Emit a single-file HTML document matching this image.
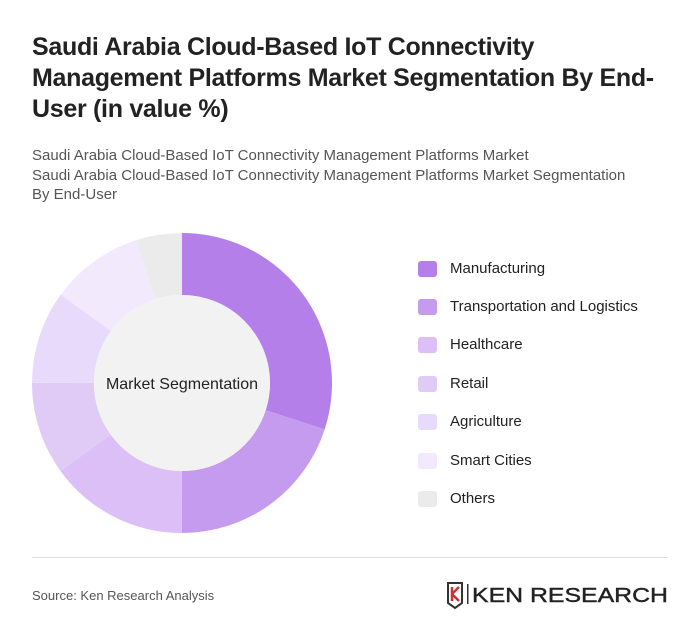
<!DOCTYPE html>
<html><head><meta charset="utf-8"><style>
body{margin:0;background:#fff;font-family:"Liberation Sans",sans-serif;}
.wrap{position:relative;width:700px;height:642px;overflow:hidden;}
h1{position:absolute;left:32px;top:32px;margin:0;font-size:25px;line-height:31px;font-weight:bold;color:#222;width:650px;letter-spacing:-0.3px}
.sub{position:absolute;left:32px;top:146px;font-size:15px;line-height:19.5px;color:#555;width:612px}
.leg{position:absolute;left:418px;font-size:15px;color:#222}
.leg i{position:absolute;left:0;top:2px;width:19px;height:16px;border-radius:3px}
.leg span{position:absolute;left:32px;top:1px;white-space:nowrap}
.hr{position:absolute;left:32px;top:557px;width:636px;height:1px;background:#ddd}
.src{position:absolute;left:32px;top:588px;font-size:13px;color:#555}
</style></head><body><div class="wrap">
<h1>Saudi Arabia Cloud-Based IoT Connectivity Management Platforms Market Segmentation By End-User (in value %)</h1>
<div class="sub">Saudi Arabia Cloud-Based IoT Connectivity Management Platforms Market<br>Saudi Arabia Cloud-Based IoT Connectivity Management Platforms Market Segmentation By End-User</div>
<svg style="position:absolute;left:0;top:0" width="700" height="642">
<g transform="rotate(-90 182 383)" fill="none" stroke-width="62">
<circle cx="182" cy="383" r="119" stroke="#b57fea" stroke-dasharray="224.3 800" stroke-dashoffset="0"/>
<circle cx="182" cy="383" r="119" stroke="#c59bf0" stroke-dasharray="149.5 800" stroke-dashoffset="-224.3"/>
<circle cx="182" cy="383" r="119" stroke="#dbbff6" stroke-dasharray="112.2 800" stroke-dashoffset="-373.8"/>
<circle cx="182" cy="383" r="119" stroke="#e0cbf7" stroke-dasharray="74.8 800" stroke-dashoffset="-486"/>
<circle cx="182" cy="383" r="119" stroke="#e8dafa" stroke-dasharray="74.8 800" stroke-dashoffset="-560.8"/>
<circle cx="182" cy="383" r="119" stroke="#f2eafc" stroke-dasharray="74.8 800" stroke-dashoffset="-635.6"/>
<circle cx="182" cy="383" r="119" stroke="#ebebeb" stroke-dasharray="37.4 800" stroke-dashoffset="-710.4"/>
</g>
<circle cx="182" cy="383" r="88" fill="#f2f2f2"/>
<text x="182" y="389" text-anchor="middle" font-family="Liberation Sans" font-size="16" fill="#222">Market Segmentation</text>
<g transform="translate(448,581)">
<path d="M0 2 L14 2 L14 22 L7 27 L0 22 Z" fill="none" stroke="#333" stroke-width="2"/>
<path d="M4 6 V20 M4 13 L11 6 M4 13 L11 20" stroke="#c33" stroke-width="2.5" fill="none"/>
<rect x="19" y="3" width="1.5" height="20" fill="#333"/>
<text x="24" y="21" font-family="Liberation Sans" font-size="20" fill="#222" textLength="196" lengthAdjust="spacingAndGlyphs" stroke="#222" stroke-width="0.4">KEN RESEARCH</text>
</g>
</svg>
<div class="leg" style="top:259px"><i style="background:#b57fea"></i><span>Manufacturing</span></div>
<div class="leg" style="top:297px"><i style="background:#c59bf0"></i><span>Transportation and Logistics</span></div>
<div class="leg" style="top:335px"><i style="background:#dbbff6"></i><span>Healthcare</span></div>
<div class="leg" style="top:374px"><i style="background:#e0cbf7"></i><span>Retail</span></div>
<div class="leg" style="top:412px"><i style="background:#e8dafa"></i><span>Agriculture</span></div>
<div class="leg" style="top:451px"><i style="background:#f2eafc"></i><span>Smart Cities</span></div>
<div class="leg" style="top:489px"><i style="background:#ebebeb"></i><span>Others</span></div>
<div class="hr"></div>
<div class="src">Source: Ken Research Analysis</div>
</div></body></html>
